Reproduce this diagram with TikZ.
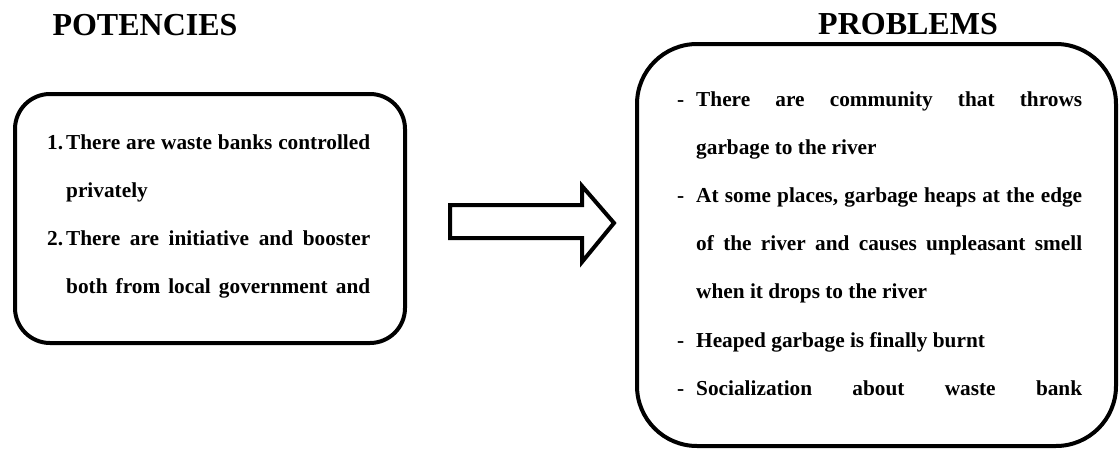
\documentclass[tikz,border=0pt]{standalone}
\usepackage{fontspec}
\setmainfont{Liberation Serif}
\usetikzlibrary{positioning}

\newcommand{\jline}[2]{\makebox[#1][s]{#2}}
\newcommand{\lbl}[1]{\makebox[19pt][l]{#1}}

\tikzset{
  panel/.style={draw, line width=4pt, inner sep=0pt},
  ttl/.style={font=\fontsize{32}{36}\selectfont\bfseries, anchor=base},
  body/.style={font=\fontsize{21.3}{48.2}\selectfont\bfseries, anchor=base west, inner sep=0pt, align=left}
}

\begin{document}
\begin{tikzpicture}[x=1pt,y=-1pt]
\useasboundingbox (0,0) rectangle (1120,450);

\node[ttl] (pottitle) at (145,35) {POTENCIES};
\node[ttl] (probtitle) at (908,34) {PROBLEMS};

\node[panel, rounded corners=35pt, minimum width=390pt, minimum height=249pt] (potbox) at (210,218.5) {};
\node[panel, rounded corners=60pt, minimum width=479pt, minimum height=402pt] (probbox) at (876.5,245) {};

% left list (placed by its last baseline)
\node[body] (pottext) at (47,293.6) {\lbl{1.}\jline{304pt}{There are waste banks controlled}\\
\hspace*{19pt}privately\\
\lbl{2.}\jline{304pt}{There are initiative and booster}\\
\hspace*{19pt}\jline{304pt}{both from local government and}};

% right list (placed by its last baseline)
\node[body] (probtext) at (677,395.2) {\lbl{-}\jline{386pt}{There are community that throws}\\
\hspace*{19pt}garbage to the river\\
\lbl{-}\jline{386pt}{At some places, garbage heaps at the edge}\\
\hspace*{19pt}\jline{386pt}{of the river and causes unpleasant smell}\\
\hspace*{19pt}when it drops to the river\\
\lbl{-}Heaped garbage is finally burnt\\
\lbl{-}\jline{386pt}{Socialization about waste bank}};

% block arrow
\draw[line width=4pt] (450,205) -- (582,205) -- (582,186) -- (614,223) -- (582,262) -- (582,238) -- (450,238) -- cycle;
\end{tikzpicture}
\end{document}
